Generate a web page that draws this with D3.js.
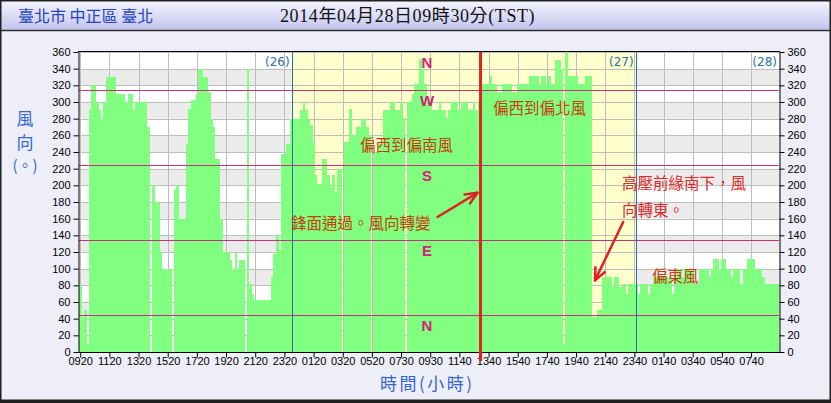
<!DOCTYPE html>
<html><head><meta charset="utf-8">
<script src="https://cdn.jsdelivr.net/npm/d3@7"></script>
<style>body{margin:0;background:#fff}svg{display:block}</style>
</head><body><svg id="c" width="831" height="403"></svg>
<script>
// ---- data (wind direction, degrees; 10-min records, null = no value) ----
const windDir = [
 80,42,50,10,290,320,320,300,290,280,300,330,
 330,330,330,310,310,310,310,300,310,310,290,300,
 300,300,300,300,270,null,200,180,180,120,100,100,
 100,100,null,195,200,160,160,160,250,292,302,302,
 310,340,340,330,330,312,280,270,232,232,160,120,
 120,120,110,100,120,100,110,110,null,340,82,70,
 62,62,62,62,62,62,62,90,118,140,122,238,
 238,250,250,280,280,280,280,290,300,290,280,272,
 252,212,202,202,232,232,212,200,212,192,220,220,
 null,252,252,292,260,260,270,270,280,280,270,260,
 null,240,240,250,250,290,290,290,300,300,290,290,
 300,281,null,300,300,310,322,322,352,338,322,300,
 305,290,290,290,300,290,290,281,290,300,300,300,
 290,300,300,300,290,290,300,290,300,322,322,322,
 322,331,322,322,312,312,322,322,322,322,312,312,
 322,322,322,322,322,331,331,331,331,322,331,331,
 322,331,322,322,351,351,340,10,360,331,331,331,
 331,322,322,322,331,331,331,42,42,50,50,90,
 90,90,90,78,90,90,78,78,82,70,82,82,
 82,82,70,82,82,82,70,82,90,90,90,90,
 90,90,90,90,70,90,100,100,90,100,100,100,
 100,82,82,100,100,100,100,90,100,112,112,100,
 112,112,100,100,90,100,100,100,82,100,100,112,
 112,112,100,100,100,90,82,82,82,82,82,82
];
const tickLabels = ["0920","1120","1320","1520","1720","1920","2120","2320","0120","0320","0520","0730",
                    "0930","1140","1340","1540","1740","1940","2140","2340","0140","0340","0540","0740"];
const tickEvery = 12;
const yTicks = d3.range(0, 361, 20);
const sectorLines = [45, 135, 225, 315];
const compassLetters = ["N", "W", "S", "E", "N"];
const compassAt = [360, 315, 225, 135, 45];
const dayBreakIdx = [87.5, 229];
const dayLabels = ["(26)", "(27)", "(28)"];
const frontIdx = 165.2;
const noteText = ["偏西到偏南風", "鋒面通過。風向轉變", "偏西到偏北風", "高壓前緣南下，風", "向轉東。", "偏東風"];
const noteIdx  = [115.6, 87.2, 170.3, 223.4, 223.4, 235.7];
const noteVal  = [241, 148, 286, 196, 163, 84];
const arrowFrom = [[147.5, 162], [223.9, 156]];
const arrowTo   = [[163.9, 191], [212.3, 86]];

// ---- layout ----
const W = 831, H = 403;
const L = 79, R = 779, T = 52, B = 352;
const svg = d3.select("#c");
const N = windDir.length;
const x = d3.scaleLinear().domain([0, N]).range([L, R]);
const y = d3.scaleLinear().domain([0, 360]).range([B, T]);

const defs = svg.append("defs");
const g1 = defs.append("linearGradient").attr("id","tb").attr("x1",0).attr("y1",0).attr("x2",0).attr("y2",1);
g1.append("stop").attr("offset","0%").attr("stop-color","#f6f6ff");
g1.append("stop").attr("offset","100%").attr("stop-color","#c4c4ee");

// page background
svg.append("rect").attr("width",W).attr("height",H).attr("fill","#eeeef9");
svg.append("rect").attr("x",0).attr("y",0).attr("width",W).attr("height",30).attr("fill","url(#tb)");
svg.append("line").attr("x1",0).attr("x2",W).attr("y1",30.5).attr("y2",30.5).attr("stroke","#303030").attr("stroke-width",1.5);
svg.append("rect").attr("x",0.75).attr("y",0.75).attr("width",W-1.5).attr("height",H-1.5)
  .attr("fill","none").attr("stroke","#202020").attr("stroke-width",1.5);
svg.append("line").attr("x1",0).attr("x2",W).attr("y1",401).attr("y2",401).attr("stroke","#202020").attr("stroke-width",3);

// title
svg.append("text").attr("x",18).attr("y",22).attr("fill","#2244bb")
  .attr("font-family","'Noto Sans CJK TC'").attr("font-size",16).text("臺北市 中正區 臺北");
svg.append("text").attr("x",280).attr("y",22).attr("fill","#111").attr("letter-spacing",0.6)
  .attr("font-family","'Liberation Serif','Noto Sans CJK TC'").attr("font-size",18).text("2014年04月28日09時30分(TST)");

// plot background: white + gray bands
svg.append("rect").attr("x",L).attr("y",T).attr("width",R-L).attr("height",B-T).attr("fill","#ffffff");
svg.append("g").selectAll("rect").data(d3.range(0, 360, 40)).join("rect")
  .attr("x",L).attr("width",R-L).attr("y",d=>y(d+20)).attr("height",d=>y(d)-y(d+20)).attr("fill","#ebebeb");
// yellow highlight day
svg.append("rect").attr("x",x(dayBreakIdx[0])).attr("width",x(dayBreakIdx[1])-x(dayBreakIdx[0]))
  .attr("y",T).attr("height",B-T).attr("fill","#ffffcc");

// grid
svg.append("g").selectAll("line").data(yTicks).join("line")
  .attr("x1",L).attr("x2",R).attr("y1",d=>Math.round(y(d))+0.5).attr("y2",d=>Math.round(y(d))+0.5)
  .attr("stroke","#bdbdbd").attr("stroke-width",1);
const tickIdx = tickLabels.map((t,i)=>i*tickEvery);
svg.append("g").selectAll("line").data(tickIdx).join("line")
  .attr("x1",d=>Math.round(x(d+0.5))+0.5).attr("x2",d=>Math.round(x(d+0.5))+0.5).attr("y1",T).attr("y2",B)
  .attr("stroke","#bdbdbd").attr("stroke-width",1);

// bars
svg.append("g").selectAll("rect").data(windDir.map((v,i)=>({v,i})).filter(d=>d.v!=null)).join("rect")
  .attr("x",d=>x(d.i)).attr("width",d=>x(d.i+1)-x(d.i)+0.3)
  .attr("y",d=>y(d.v)).attr("height",d=>B-y(d.v)).attr("fill","#80ff80").attr("shape-rendering","crispEdges");

// sector lines
svg.append("g").selectAll("line").data(sectorLines).join("line")
  .attr("x1",L).attr("x2",R).attr("y1",d=>Math.round(y(d))+0.5).attr("y2",d=>Math.round(y(d))+0.5)
  .attr("stroke","#c8307a").attr("stroke-width",1);

// day breaks
svg.append("g").selectAll("line").data(dayBreakIdx).join("line")
  .attr("x1",d=>Math.round(x(d))+0.5).attr("x2",d=>Math.round(x(d))+0.5).attr("y1",T).attr("y2",B)
  .attr("stroke","#2a6fa8").attr("stroke-width",1);
const dayLabelX = [x(dayBreakIdx[0]), x(dayBreakIdx[1]), R];
svg.append("g").selectAll("text").data(dayLabels).join("text")
  .attr("x",(d,i)=>dayLabelX[i]-2).attr("y",T+14).attr("text-anchor","end")
  .attr("fill","#2a6fa8").attr("font-family","'DejaVu Sans'").attr("font-size",12).text(d=>d);

// compass letters
svg.append("g").selectAll("text").data(compassLetters).join("text")
  .attr("x",427).attr("y",(d,i)=>y(compassAt[i])+16).attr("text-anchor","middle")
  .attr("fill","#d4207a").attr("font-family","'Liberation Sans'").attr("font-weight","bold").attr("font-size",15).text(d=>d);

// plot frame
svg.append("line").attr("x1",L-1).attr("x2",R+1).attr("y1",T-0.5).attr("y2",T-0.5).attr("stroke","#000");

// axes
const yl = svg.append("g").attr("transform",`translate(${L-0.5},0)`).call(d3.axisLeft(y).tickValues(yTicks).tickSize(5).tickSizeOuter(0));
const yr = svg.append("g").attr("transform",`translate(${R+0.5},0)`).call(d3.axisRight(y).tickValues(yTicks).tickSize(5).tickSizeOuter(0));
const xa = svg.append("g").attr("transform",`translate(0,${B+0.5})`)
  .call(d3.axisBottom(x).tickValues(tickIdx.map(d=>d+0.5)).tickFormat((d,i)=>tickLabels[i]).tickSize(5).tickSizeOuter(0));
[yl, yr, xa].forEach(a=>{
  a.selectAll("text").attr("font-family","'Liberation Sans', Arial").attr("font-size",11).attr("fill","#000");
  a.selectAll("line,path").attr("stroke","#000");
});
xa.select(".domain").attr("d",`M${L-1},0H${R+1}`);
xa.selectAll("text").attr("dy","0.62em").attr("y",6);

// front line
svg.append("line").attr("x1",x(frontIdx)).attr("x2",x(frontIdx)).attr("y1",T).attr("y2",B+9)
  .attr("stroke","#e02222").attr("stroke-width",3);

// axis titles
const yt = svg.append("g").attr("fill","#3366cc").attr("font-family","'Noto Sans CJK TC'").attr("text-anchor","middle");
yt.append("text").attr("x",25).attr("y",125).attr("font-size",17).text("風");
yt.append("text").attr("x",25).attr("y",149).attr("font-size",17).text("向");
yt.append("text").attr("x",25).attr("y",171).attr("font-size",15).text("(。)");
svg.append("text").attr("x",380).attr("y",390).attr("fill","#3366cc").attr("font-family","'Noto Sans CJK TC'")
  .attr("font-size",17).attr("letter-spacing",2.5).text("時間(小時)");

// annotations
const noteColor = ["#c4400c","#c4400c","#c4400c","#dd2a2a","#dd2a2a","#c4400c"];
svg.append("g").selectAll("text").data(noteText).join("text")
  .attr("x",(d,i)=>x(noteIdx[i])).attr("y",(d,i)=>y(noteVal[i]))
  .attr("fill",(d,i)=>noteColor[i]).attr("font-family","'Noto Sans CJK TC'").attr("font-size",15.5).text(d=>d);

// arrows
arrowFrom.forEach((f,k)=>{
  const x1=x(f[0]), y1=y(f[1]), x2=x(arrowTo[k][0]), y2=y(arrowTo[k][1]);
  const ang=Math.atan2(y2-y1,x2-x1), hl=13, ha=0.42;
  svg.append("line").attr("x1",x1).attr("y1",y1).attr("x2",x2).attr("y2",y2)
    .attr("stroke","#dd2222").attr("stroke-width",2.5).attr("stroke-linecap","round");
  svg.append("path").attr("d",`M${x2-hl*Math.cos(ang-ha)},${y2-hl*Math.sin(ang-ha)}L${x2},${y2}L${x2-hl*Math.cos(ang+ha)},${y2-hl*Math.sin(ang+ha)}`)
    .attr("fill","none").attr("stroke","#dd2222").attr("stroke-width",2.5).attr("stroke-linecap","round").attr("stroke-linejoin","round");
});
</script></body></html>
